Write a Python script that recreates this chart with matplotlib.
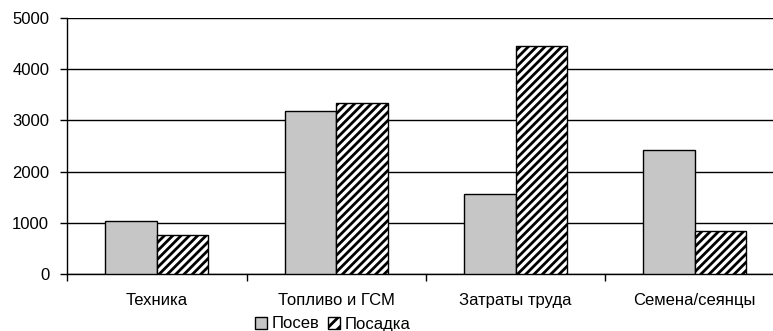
import numpy as np
import matplotlib
matplotlib.use("Agg")
import matplotlib.pyplot as plt
from matplotlib.patches import Patch

categories = ["Техника", "Топливо и ГСМ", "Затраты труда", "Семена/сеянцы"]
posev = [1040, 3180, 1570, 2420]
posadka = [760, 3340, 4460, 845]
series_names = ["Посев", "Посадка"]

plt.rcParams["font.family"] = ["Liberation Sans", "DejaVu Sans"]
plt.rcParams["hatch.linewidth"] = 2.0

fig = plt.figure(figsize=(7.73, 3.31), dpi=100)
ax = fig.add_axes([67.3 / 773, 57.3 / 331, 717.2 / 773, 255.4 / 331])

posev_color = "#c6c6c6"
x = np.arange(len(categories))
w = 0.287
ax.bar(x - w / 2, posev, w, facecolor=posev_color, edgecolor="black",
       linewidth=1.0, zorder=3)
ax.bar(x + w / 2, posadka, w, facecolor="white", edgecolor="black",
       linewidth=1.0, hatch="////", zorder=3)

ax.set_xlim(-0.5, len(categories) - 0.5)
ax.set_ylim(0, 5000)
ax.set_yticks(range(0, 5001, 1000))
ax.yaxis.grid(True, color="black", linewidth=1.0)
ax.set_axisbelow(True)

ax.set_xticks(x)
ax.set_xticklabels(categories)
ax.set_xticks(np.arange(-0.5, len(categories), 1), minor=True)
ax.tick_params(axis="x", which="major", length=0, pad=14, labelsize=12)
ax.tick_params(axis="x", which="minor", length=5, width=1, direction="out")
ax.tick_params(axis="y", length=5, width=1, direction="out", pad=8, labelsize=12)

for side in ["top", "right"]:
    ax.spines[side].set_visible(False)
ax.spines["left"].set_linewidth(1.0)
ax.spines["bottom"].set_linewidth(1.0)

handles = [Patch(facecolor=posev_color, edgecolor="black"),
           Patch(facecolor="white", edgecolor="black", hatch="///")]
fig.legend(handles, series_names, loc="center", bbox_to_anchor=(333 / 773, 1 - 324 / 331),
           ncol=2, frameon=False, fontsize=12, handlelength=0.7, handleheight=0.7,
           handletextpad=0.3, columnspacing=0.5)

fig.savefig("out.png", dpi=100)
